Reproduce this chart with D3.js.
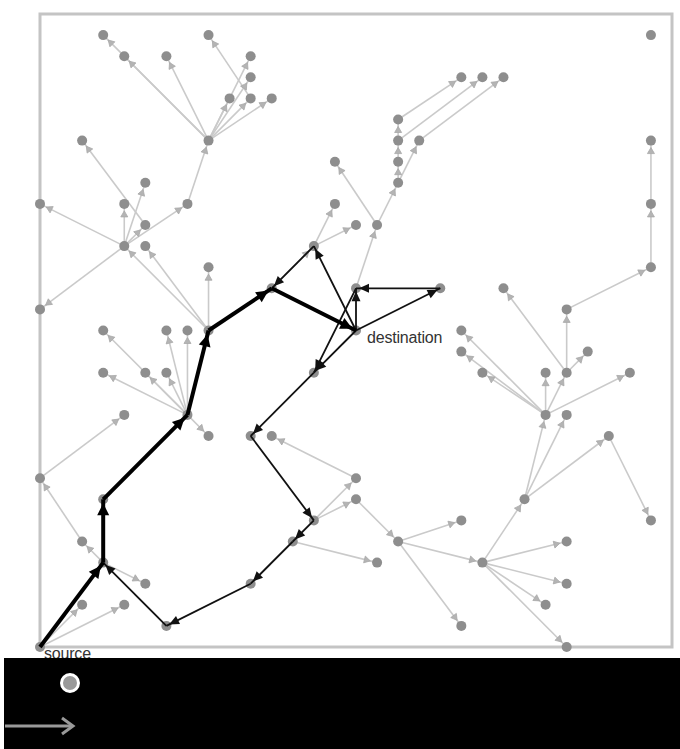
<!DOCTYPE html>
<html><head><meta charset="utf-8">
<script src="https://cdn.jsdelivr.net/npm/d3@7"></script>
<style>html,body{margin:0;padding:0;background:#fff;}svg{display:block;}</style>
</head><body>
<svg id="c" width="680" height="749"></svg>
<script>
// grid nodes (data units, origin = source, 0..30 each axis)
const nodes = [
 [0,0],[3,4],[3,7],[2,2],[4,2],[5,3],[2,5],[0,8],[4,11],[6,1],
 [7,11],[3,15],[6,15],[7,15],[3,13],[5,13],[6,13],[8,10],
 [8,15],[4,19],[5,19],[8,18],
 [7,21],[0,21],[0,16],[4,21],[5,22],[5,20],[2,24],
 [8,24],[3,29],[4,28],[6,28],[8,29],[9,26],[10,26],[11,26],[10,27],[10,28],
 [11,17],[15,15],[15,17],[19,17],[13,19],[14,21],[15,20],[16,20],[14,23],[17,22],[17,23],[17,24],[17,25],[18,24],[20,27],[21,27],[22,27],
 [29,29],[29,24],[29,21],[29,18],[25,16],[22,17],[25,13],[26,14],[20,15],[20,14],[21,13],[24,13],[28,13],[24,11],[25,11],[27,10],[29,6],[23,7],
 [21,4],[25,5],[25,3],[24,2],[25,0],[20,1],[20,6],[17,5],[16,4],[15,7],[15,8],[13,6],[12,5],[10,3],[10,10],[11,10],[13,13]
];
// tree edges (from -> to)
const treeEdges = [
 [8,24,3,29],[8,24,4,28],[8,24,6,28],[8,24,9,26],[8,24,10,26],[8,24,11,26],[8,24,10,27],[8,24,10,28],[10,26,8,29],
 [7,21,8,24],
 [4,19,7,21],[4,19,0,21],[4,19,0,16],[4,19,4,21],[4,19,5,22],[4,19,5,20],[5,20,2,24],
 [8,15,4,19],[8,15,5,19],[8,15,8,18],
 [7,11,3,15],[7,11,6,15],[7,11,7,15],[7,11,3,13],[7,11,5,13],[7,11,6,13],[7,11,8,10],
 [0,8,4,11],[2,5,0,8],[3,4,2,5],[3,4,5,3],[0,0,2,2],[0,0,4,2],
 [11,17,13,19],[13,19,14,21],[13,19,15,20],[15,17,16,20],[16,20,17,22],[16,20,14,23],[17,22,17,23],[17,23,17,24],[17,24,17,25],[17,22,18,24],[17,25,20,27],[17,24,21,27],[18,24,22,27],
 [29,18,29,21],[29,21,29,24],[25,16,29,18],[25,13,25,16],[25,13,22,17],[25,13,26,14],
 [24,11,20,15],[24,11,20,14],[24,11,21,13],[24,11,24,13],[24,11,25,13],[24,11,28,13],
 [23,7,24,11],[23,7,25,11],[23,7,27,10],[27,10,29,6],
 [21,4,23,7],[21,4,25,5],[21,4,25,3],[21,4,24,2],[21,4,25,0],[17,5,21,4],[17,5,20,6],[17,5,20,1],
 [15,7,17,5],[13,6,15,7],[13,6,15,8],[12,5,16,4],[15,8,11,10]
];
const mainPath = [[0,0],[3,4],[3,7],[7,11],[8,15],[11,17],[15,15]];
const searchEdges = [
 [15,15,15,17],[15,15,19,17],[19,17,15,17],[15,15,13,19],[13,19,11,17],[15,17,13,13],[15,15,13,13],
 [13,13,10,10],[10,10,13,6],[13,6,12,5],[12,5,10,3],[10,3,6,1],[6,1,3,4]
];
const labels = [["source",0,0],["destination",15,15]];

const svg = d3.select("#c");
const x = d3.scaleLinear().domain([0,30]).range([40,672]);
const y = d3.scaleLinear().domain([0,30]).range([647,14]);

// frame
svg.append("rect").attr("x",x(0)).attr("y",y(30)).attr("width",x(30)-x(0)).attr("height",y(0)-y(30))
  .attr("fill","none").attr("stroke","#c4c4c4").attr("stroke-width",3);

function head(x1,y1,x2,y2,off,len,hw){
  const dx=x2-x1, dy=y2-y1, L=Math.hypot(dx,dy), ux=dx/L, uy=dy/L;
  const tx=x2-ux*off, ty=y2-uy*off, bx=tx-ux*len, by=ty-uy*len;
  return `M${tx},${ty}L${bx-uy*hw},${by+ux*hw}L${bx+uy*hw},${by-ux*hw}Z`;
}

const gE = svg.append("g");
gE.selectAll("line").data(treeEdges).join("line")
  .attr("x1",d=>x(d[0])).attr("y1",d=>y(d[1])).attr("x2",d=>x(d[2])).attr("y2",d=>y(d[3]))
  .attr("stroke","#cacaca").attr("stroke-width",1.6);
gE.selectAll("path").data(treeEdges).join("path")
  .attr("d",d=>head(x(d[0]),y(d[1]),x(d[2]),y(d[3]),7,6,3.5))
  .attr("fill","#b4b4b4").attr("stroke","#a8a8a8").attr("stroke-width",0.8);

// nodes
svg.append("g").selectAll("circle").data(nodes).join("circle")
  .attr("cx",d=>x(d[0])).attr("cy",d=>y(d[1])).attr("r",5).attr("fill","#8e8e8e");

// search edges (thin black)
const gS = svg.append("g");
gS.selectAll("line").data(searchEdges).join("line")
  .attr("x1",d=>x(d[0])).attr("y1",d=>y(d[1])).attr("x2",d=>x(d[2])).attr("y2",d=>y(d[3]))
  .attr("stroke","#111").attr("stroke-width",1.8);
gS.selectAll("path").data(searchEdges).join("path")
  .attr("d",d=>head(x(d[0]),y(d[1]),x(d[2]),y(d[3]),3,10,4.5)).attr("fill","#111");

// main path (thick black)
const segs = d3.pairs(mainPath);
const gP = svg.append("g");
gP.selectAll("line").data(segs).join("line")
  .attr("x1",d=>x(d[0][0])).attr("y1",d=>y(d[0][1])).attr("x2",d=>x(d[1][0])).attr("y2",d=>y(d[1][1]))
  .attr("stroke","#000").attr("stroke-width",4);
gP.selectAll("path").data(segs).join("path")
  .attr("d",d=>head(x(d[0][0]),y(d[0][1]),x(d[1][0]),y(d[1][1]),4,12,6)).attr("fill","#000");

// labels
svg.append("g").selectAll("text").data(labels).join("text")
  .attr("x",d=>x(d[1])+(d[0]==="source"?4:11)).attr("y",d=>y(d[2])+12)
  .text(d=>d[0]).attr("font-family","Liberation Sans, Arial, sans-serif").attr("font-size",16)
  .attr("letter-spacing",-0.2).attr("fill","#333");

// bottom black band with legend
svg.append("rect").attr("x",4).attr("y",658).attr("width",676).attr("height",91).attr("fill","#000");
svg.append("circle").attr("cx",70).attr("cy",683).attr("r",8.5).attr("fill","#999").attr("stroke","#fff").attr("stroke-width",3);
svg.append("line").attr("x1",5).attr("y1",726).attr("x2",72).attr("y2",726).attr("stroke","#999").attr("stroke-width",3);
svg.append("path").attr("d","M62,718L73,726L62,734").attr("fill","none").attr("stroke","#999").attr("stroke-width",3);
</script>
</body></html>
